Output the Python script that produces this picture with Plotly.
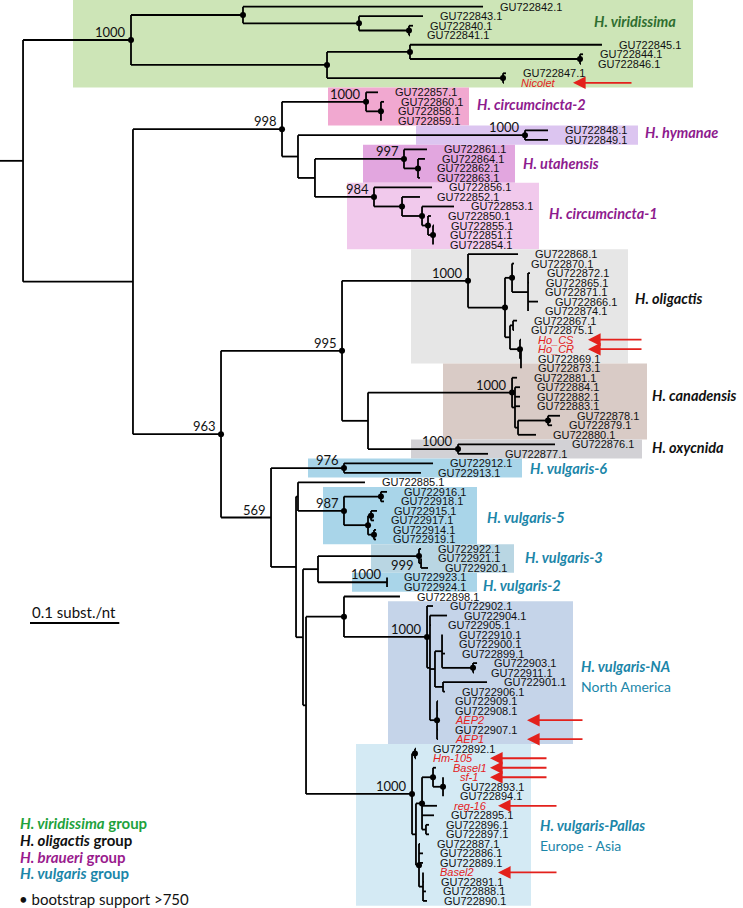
import plotly.graph_objects as go

# ---------------- DATA ----------------
# internal nodes of the tree: parent and distance from the root origin (subst./nt)
node_names = ["R", "V", "A", "C", "D", "B", "E", "F", "G",
              "N1", "P", "CC2", "CC2b", "P2", "HY", "P3", "UT", "UT2",
              "CC1", "CC1b", "CC1c", "CC1d", "CC1e",
              "Q", "O", "OL", "OLb", "OLc", "OLg", "OLd", "OLe", "OLf", "OLf2",
              "O2", "CA", "CAx", "CAc", "CAb", "OX",
              "VU", "VU6", "VUb", "VUc", "VU5", "VU5a", "VU5b", "VU5c", "VU5d",
              "VUd", "VU32", "VU3", "VU3b", "VU2", "VUe", "NAx",
              "NA", "NA1", "NA2", "NA3", "NA5", "NA6", "NAaep",
              "PAL", "PA1", "PA2", "PA3", "PA5", "PA7", "PA6", "PA4", "PA9"]
node_parent = [None, "R", "V", "A", "C", "V", "B", "E", "B",
               "R", "N1", "P", "CC2", "P", "P2", "P2", "P3", "UT",
               "P3", "CC1", "CC1b", "CC1c", "CC1d",
               "N1", "Q", "O", "OL", "OLb", "OLc", "OLb", "OLd", "OLd", "OLf",
               "O", "O2", "CA", "CAx", "CAc", "O2",
               "Q", "VU", "VU", "VUb", "VUc", "VU5", "VU5", "VU5b", "VU5b",
               "VUb", "VUd", "VU32", "VU3", "VU32", "VUd", "VUe",
               "NAx", "NA", "NA1", "NA2", "NA3", "NA2", "NA1",
               "VUe", "PAL", "PAL", "PA2", "PA3", "PA5", "PA3", "PA2", "PA4"]
node_depth = [0.0258, 0.1467, 0.2721, 0.4020, 0.4580, 0.3662, 0.4591, 0.6495, 0.5633,
              0.1489, 0.3158, 0.4099, 0.4266, 0.3337, 0.5879, 0.3527, 0.4524, 0.4681,
              0.4188, 0.4502, 0.4726, 0.4793, 0.4849,
              0.2475, 0.3830, 0.5241, 0.5655, 0.5734, 0.5913, 0.5711, 0.5745, 0.5823, 0.5834,
              0.4121, 0.5734, 0.5767, 0.5801, 0.6137, 0.5129,
              0.3035, 0.3852, 0.3315, 0.3337, 0.3852, 0.4266, 0.4121, 0.4155, 0.4188,
              0.3393, 0.3561, 0.4692, 0.4715, 0.4334, 0.3427, 0.3852,
              0.4782, 0.4815, 0.4871, 0.4950, 0.5297, 0.4961, 0.4894,
              0.4614, 0.4647, 0.4658, 0.4726, 0.4849, 0.4961, 0.4770, 0.4692, 0.4737]
node_support = [None, 1000, None, None, None, None, None, None, None,
                None, 998, 1000, None, None, 1000, None, 997, None,
                984, None, None, None, None,
                963, 995, 1000, None, None, None, None, None, None, None,
                None, 1000, None, None, None, 1000,
                569, 976, None, None, 987, None, None, None, None,
                None, None, 999, None, 1000, None, None,
                1000, None, None, None, None, None, None,
                1000, None, None, None, None, None, None, None, None]
# bootstrap support > 750 (filled dot)
node_dot = [0, 1, 1, 1, 1, 1, 1, 1, 1,
            0, 1, 1, 1, 0, 1, 0, 1, 1,
            1, 1, 1, 1, 1,
            1, 1, 1, 1, 1, 0, 0, 0, 1, 0,
            0, 1, 0, 0, 1, 1,
            0, 1, 0, 0, 1, 1, 1, 1, 1,
            0, 0, 1, 0, 0, 0, 1,
            1, 0, 0, 0, 1, 0, 1,
            1, 1, 0, 1, 1, 1, 0, 1, 0]

# leaves, in display order (top to bottom)
leaf_names = ["GU722842.1", "GU722843.1", "GU722840.1", "GU722841.1", "GU722845.1", "GU722844.1",
              "GU722846.1", "GU722847.1", "Nicolet",
              "GU722857.1", "GU722860.1", "GU722858.1", "GU722859.1", "GU722848.1", "GU722849.1",
              "GU722861.1", "GU722864.1", "GU722862.1", "GU722863.1",
              "GU722856.1", "GU722852.1", "GU722853.1", "GU722850.1", "GU722855.1", "GU722851.1", "GU722854.1",
              "GU722868.1", "GU722870.1", "GU722872.1", "GU722865.1", "GU722871.1", "GU722866.1",
              "GU722874.1", "GU722867.1", "GU722875.1", "Ho_CS", "Ho_CR", "GU722869.1",
              "GU722873.1", "GU722881.1", "GU722884.1", "GU722882.1", "GU722883.1", "GU722878.1",
              "GU722879.1", "GU722880.1", "GU722876.1", "GU722877.1",
              "GU722912.1", "GU722913.1", "GU722885.1",
              "GU722916.1", "GU722918.1", "GU722915.1", "GU722917.1", "GU722914.1", "GU722919.1",
              "GU722922.1", "GU722921.1", "GU722920.1", "GU722923.1", "GU722924.1",
              "GU722898.1", "GU722902.1", "GU722904.1", "GU722905.1", "GU722910.1", "GU722900.1",
              "GU722899.1", "GU722903.1", "GU722911.1", "GU722901.1", "GU722906.1", "GU722909.1",
              "GU722908.1", "AEP2", "GU722907.1", "AEP1",
              "GU722892.1", "Hm-105", "Basel1", "sf-1", "GU722893.1", "GU722894.1", "reg-16",
              "GU722895.1", "GU722896.1", "GU722897.1", "GU722887.1", "GU722886.1", "GU722889.1",
              "Basel2", "GU722891.1", "GU722888.1", "GU722890.1"]
leaf_parent = ["A", "C", "D", "D", "E", "F", "F", "G", "G",
               "CC2", "CC2b", "CC2b", "CC2b", "HY", "HY",
               "UT", "UT2", "UT2", "UT2",
               "CC1", "CC1b", "CC1c", "CC1d", "CC1e", "CC1e", "CC1e",
               "OL", "OLc", "OLg", "OLg", "OLg", "OLg", "OLg", "OLe", "OLe", "OLf", "OLf2", "OLf2",
               "OLf2", "CA", "CAx", "CAx", "CAx", "CAb", "CAb", "CAc", "OX", "OX",
               "VU6", "VU6", "VUc",
               "VU5a", "VU5a", "VU5c", "VU5c", "VU5d", "VU5d",
               "VU3", "VU3b", "VU3b", "VU2", "VU2",
               "NAx", "NA", "NA1", "NA1", "NA3", "NA3", "NA3", "NA5", "NA5", "NA6", "NA6",
               "NAaep", "NAaep", "NAaep", "NAaep", "NAaep",
               "PA1", "PA1", "PA5", "PA7", "PA7", "PA7", "PA3", "PA3", "PA6", "PA6",
               "PA4", "PA4", "PA4", "PA9", "PA9", "PA9", "PA9"]
leaf_depth = [0.5409, 0.4737, 0.4625, 0.4591, 0.6741, 0.6529, 0.6506, 0.5666, 0.5644,
              0.4233, 0.4300, 0.4266, 0.4266, 0.6137, 0.6137,
              0.4782, 0.4759, 0.4703, 0.4703,
              0.4838, 0.4703, 0.5084, 0.4826, 0.4860, 0.4849, 0.4849,
              0.5801, 0.5756, 0.5935, 0.5924, 0.5913, 0.6025, 0.5913, 0.5790, 0.5756, 0.5834, 0.5834, 0.5834,
              0.5834, 0.5790, 0.5823, 0.5823, 0.5823, 0.6271, 0.6182, 0.6002, 0.6215, 0.5465,
              0.4849, 0.4714, 0.4087,
              0.4334, 0.4300, 0.4222, 0.4188, 0.4211, 0.4211,
              0.4715, 0.4715, 0.4793, 0.4334, 0.4334,
              0.4479, 0.4849, 0.5006, 0.4826, 0.4950, 0.4950, 0.4983, 0.5342, 0.5308, 0.5454, 0.4983,
              0.4905, 0.4905, 0.4905, 0.4905, 0.4905,
              0.4658, 0.4658, 0.4882, 0.4961, 0.4983, 0.4961, 0.4894, 0.4860, 0.4804, 0.4804,
              0.4703, 0.4737, 0.4737, 0.4737, 0.4748, 0.4770, 0.4782]

# isolates of this study (highlighted with arrows)
highlighted = ["Nicolet", "Ho_CS", "Ho_CR", "AEP2", "AEP1", "Hm-105", "Basel1", "sf-1", "reg-16", "Basel2"]

# clades: name, first and last member leaf, group
clade_names = ["H. viridissima", "H. circumcincta-2", "H. hymanae", "H. utahensis", "H. circumcincta-1",
               "H. oligactis", "H. canadensis", "H. oxycnida", "H. vulgaris-6", "H. vulgaris-5",
               "H. vulgaris-3", "H. vulgaris-2", "H. vulgaris-NA", "H. vulgaris-Pallas"]
clade_first = ["GU722842.1", "GU722857.1", "GU722848.1", "GU722861.1", "GU722856.1",
               "GU722868.1", "GU722873.1", "GU722876.1", "GU722912.1", "GU722916.1",
               "GU722922.1", "GU722923.1", "GU722902.1", "GU722892.1"]
clade_last = ["Nicolet", "GU722859.1", "GU722849.1", "GU722863.1", "GU722854.1",
              "GU722869.1", "GU722880.1", "GU722877.1", "GU722913.1", "GU722919.1",
              "GU722920.1", "GU722924.1", "AEP1", "GU722890.1"]
clade_group = ["viridissima", "braueri", "braueri", "braueri", "braueri",
               "oligactis", "oligactis", "oligactis", "vulgaris", "vulgaris",
               "vulgaris", "vulgaris", "vulgaris", "vulgaris"]
clade_region = {"H. vulgaris-NA": "North America", "H. vulgaris-Pallas": "Europe - Asia"}

group_names = ["viridissima", "oligactis", "braueri", "vulgaris"]
scale_bar_length = 0.1  # subst./nt

# ---------------- STYLE ----------------
W, H = 743, 908
PX_PER_UNIT = 893.0
Y0_PX, ROW_PX = 6.7, 9.513
LEAF_FONT = "Liberation Sans, Arial, sans-serif"
MYRIAD = "Lato, 'Open Sans', sans-serif"
RED = "#e3211c"
group_text_color = {"viridissima": "#2f6e2f", "braueri": "#8e1b8e", "oligactis": "#111111", "vulgaris": "#1b86a9"}
group_legend_color = {"viridissima": "#1ea23c", "braueri": "#9a1b8e", "oligactis": "#111111", "vulgaris": "#1b86a9"}
box_style = {  # x-extent (px) and fill colour of shaded clade boxes
    "H. viridissima": (73, 693, "#cde5b7"),
    "H. circumcincta-2": (328, 469, "#f1a8d0"),
    "H. hymanae": (416, 638, "#dcc5f0"),
    "H. utahensis": (363, 515, "#e2a6df"),
    "H. circumcincta-1": (347, 539, "#f1c9ec"),
    "H. oligactis": (411, 628, "#e6e6e6"),
    "H. canadensis": (443, 647, "#d9cbc6"),
    "H. oxycnida": (411, 642, "#d2d1d5"),
    "H. vulgaris-6": (308, 522, "#a9d5e9"),
    "H. vulgaris-5": (323, 477, "#a9d5e9"),
    "H. vulgaris-3": (371, 514, "#b9d6e3"),
    "H. vulgaris-2": (352, 477, "#a9d5e9"),
    "H. vulgaris-NA": (388, 573, "#c5d4e9"),
    "H. vulgaris-Pallas": (356, 531, "#d4eaf4"),
}
clade_label_pos = {
    "H. viridissima": (592, 21), "H. circumcincta-2": (475, 105), "H. hymanae": (643, 133),
    "H. utahensis": (521, 163), "H. circumcincta-1": (547, 213), "H. oligactis": (633, 298),
    "H. canadensis": (650, 395), "H. oxycnida": (650, 447), "H. vulgaris-6": (528, 469),
    "H. vulgaris-5": (485, 517), "H. vulgaris-3": (523, 557), "H. vulgaris-2": (481, 585),
    "H. vulgaris-NA": (579, 666), "H. vulgaris-Pallas": (538, 825),
}
arrow_px = {  # arrow head x, tail x (px)
    "Nicolet": (573, 633), "Ho_CS": (588, 643), "Ho_CR": (588, 643),
    "AEP2": (527, 584), "AEP1": (527, 584),
    "Hm-105": (490, 548), "Basel1": (490, 548), "sf-1": (490, 548),
    "reg-16": (498, 558), "Basel2": (498, 558),
}
support_below = {"VU3"}

# ---------------- LAYOUT OF THE TREE ----------------
depth = dict(zip(node_names, node_depth))
depth.update(zip(leaf_names, leaf_depth))
parent = dict(zip(node_names, node_parent))
parent.update(zip(leaf_names, leaf_parent))
children = {n: [] for n in node_names}
for n in node_names + leaf_names:
    if parent[n] is not None:
        children[parent[n]].append(n)
ypos = {n: i for i, n in enumerate(leaf_names)}


def get_y(n):
    if n not in ypos:
        ys = [get_y(c) for c in children[n]]
        ypos[n] = (min(ys) + max(ys)) / 2.0
    return ypos[n]


for n in node_names:
    get_y(n)

lx, ly = [], []
for n in node_names + leaf_names:
    p = parent[n]
    x0 = depth[p] if p is not None else 0.0
    lx += [x0, depth[n], None]
    ly += [ypos[n], ypos[n], None]
for n in node_names:
    cy = [ypos[c] for c in children[n]]
    lx += [depth[n], depth[n], None]
    ly += [min(cy), max(cy), None]

fig = go.Figure()
fig.add_trace(go.Scatter(x=lx, y=ly, mode="lines", line=dict(color="black", width=1.8),
                         hoverinfo="skip", showlegend=False))
dx = [depth[n] for n, d in zip(node_names, node_dot) if d]
dy = [ypos[n] for n, d in zip(node_names, node_dot) if d]
fig.add_trace(go.Scatter(x=dx, y=dy, mode="markers", marker=dict(color="black", size=6),
                         hoverinfo="skip", showlegend=False))

ann = []
# leaf labels
for n in leaf_names:
    red = n in highlighted
    ann.append(dict(x=depth[n], y=ypos[n], xref="x", yref="y", text=f"<i>{n}</i>" if red else n,
                    showarrow=False, xanchor="left", yanchor="middle", xshift=15,
                    font=dict(family=LEAF_FONT, size=11, color=RED if red else "#111111")))
# bootstrap values
for n, s in zip(node_names, node_support):
    if s is None:
        continue
    ann.append(dict(x=depth[n], y=ypos[n], xref="x", yref="y", text=str(s), showarrow=False,
                    xanchor="right", yanchor="middle", xshift=-3,
                    yshift=-9 if n in support_below else 8,
                    font=dict(family=MYRIAD, size=13, color="#111111")))
# arrows
for n in highlighted:
    hx, tx = arrow_px[n]
    ann.append(dict(x=hx / W, y=ypos[n], xref="paper", yref="y", text="", showarrow=True,
                    ax=tx - hx, ay=0, arrowhead=2, arrowsize=1.4, arrowwidth=1.8, arrowcolor=RED))
# clade labels
shapes = []
for name, f, l, g in zip(clade_names, clade_first, clade_last, clade_group):
    x0, x1, col = box_style[name]
    y_top = ypos[f] - 0.5 if ypos[f] > 0 else -1.0
    shapes.append(dict(type="rect", xref="paper", yref="y", x0=x0 / W, x1=x1 / W,
                       y0=y_top, y1=ypos[l] + 0.5, fillcolor=col, line=dict(width=0), layer="below"))
    px, py = clade_label_pos[name]
    ann.append(dict(x=px / W, y=1 - py / H, xref="paper", yref="paper", text=f"<b><i>{name}</i></b>",
                    showarrow=False, xanchor="left", yanchor="middle",
                    font=dict(family=MYRIAD, size=14.5, color=group_text_color[g])))
    if name in clade_region:
        ann.append(dict(x=px / W, y=1 - (py + 20) / H, xref="paper", yref="paper", text=clade_region[name],
                        showarrow=False, xanchor="left", yanchor="middle",
                        font=dict(family=MYRIAD, size=14, color=group_text_color[g])))

# scale bar
sb_x0 = 30 / PX_PER_UNIT
sb_y = 1 - 623 / H
shapes.append(dict(type="line", xref="x", yref="paper", x0=sb_x0, x1=sb_x0 + scale_bar_length,
                   y0=sb_y, y1=sb_y, line=dict(color="black", width=2)))
ann.append(dict(x=30 / W, y=1 - 612 / H, xref="paper", yref="paper", text=f"{scale_bar_length} subst./nt",
                showarrow=False, xanchor="left", yanchor="middle",
                font=dict(family=MYRIAD, size=15, color="#111111")))

# group legend
for i, g in enumerate(group_names):
    ann.append(dict(x=18 / W, y=1 - (823 + i * 16.8) / H, xref="paper", yref="paper",
                    text=f"<b><i>H. {g}</i> group</b>", showarrow=False, xanchor="left", yanchor="middle",
                    font=dict(family=MYRIAD, size=15, color=group_legend_color[g])))
ann.append(dict(x=17 / W, y=1 - 899 / H, xref="paper", yref="paper", text="\u2022 bootstrap support >750",
                showarrow=False, xanchor="left", yanchor="middle",
                font=dict(family=MYRIAD, size=15, color="#111111")))

fig.update_layout(
    width=W, height=H, margin=dict(l=0, r=0, t=0, b=0),
    paper_bgcolor="white", plot_bgcolor="white",
    xaxis=dict(range=[0, W / PX_PER_UNIT], visible=False, fixedrange=True),
    yaxis=dict(range=[(H - Y0_PX) / ROW_PX, -Y0_PX / ROW_PX], visible=False, fixedrange=True),
    annotations=ann, shapes=shapes, showlegend=False,
)
fig.write_html("out.html", config={"displayModeBar": False},
               post_script="document.body.style.margin='0';document.body.style.padding='0';"
                           "document.body.style.overflow='hidden';")
